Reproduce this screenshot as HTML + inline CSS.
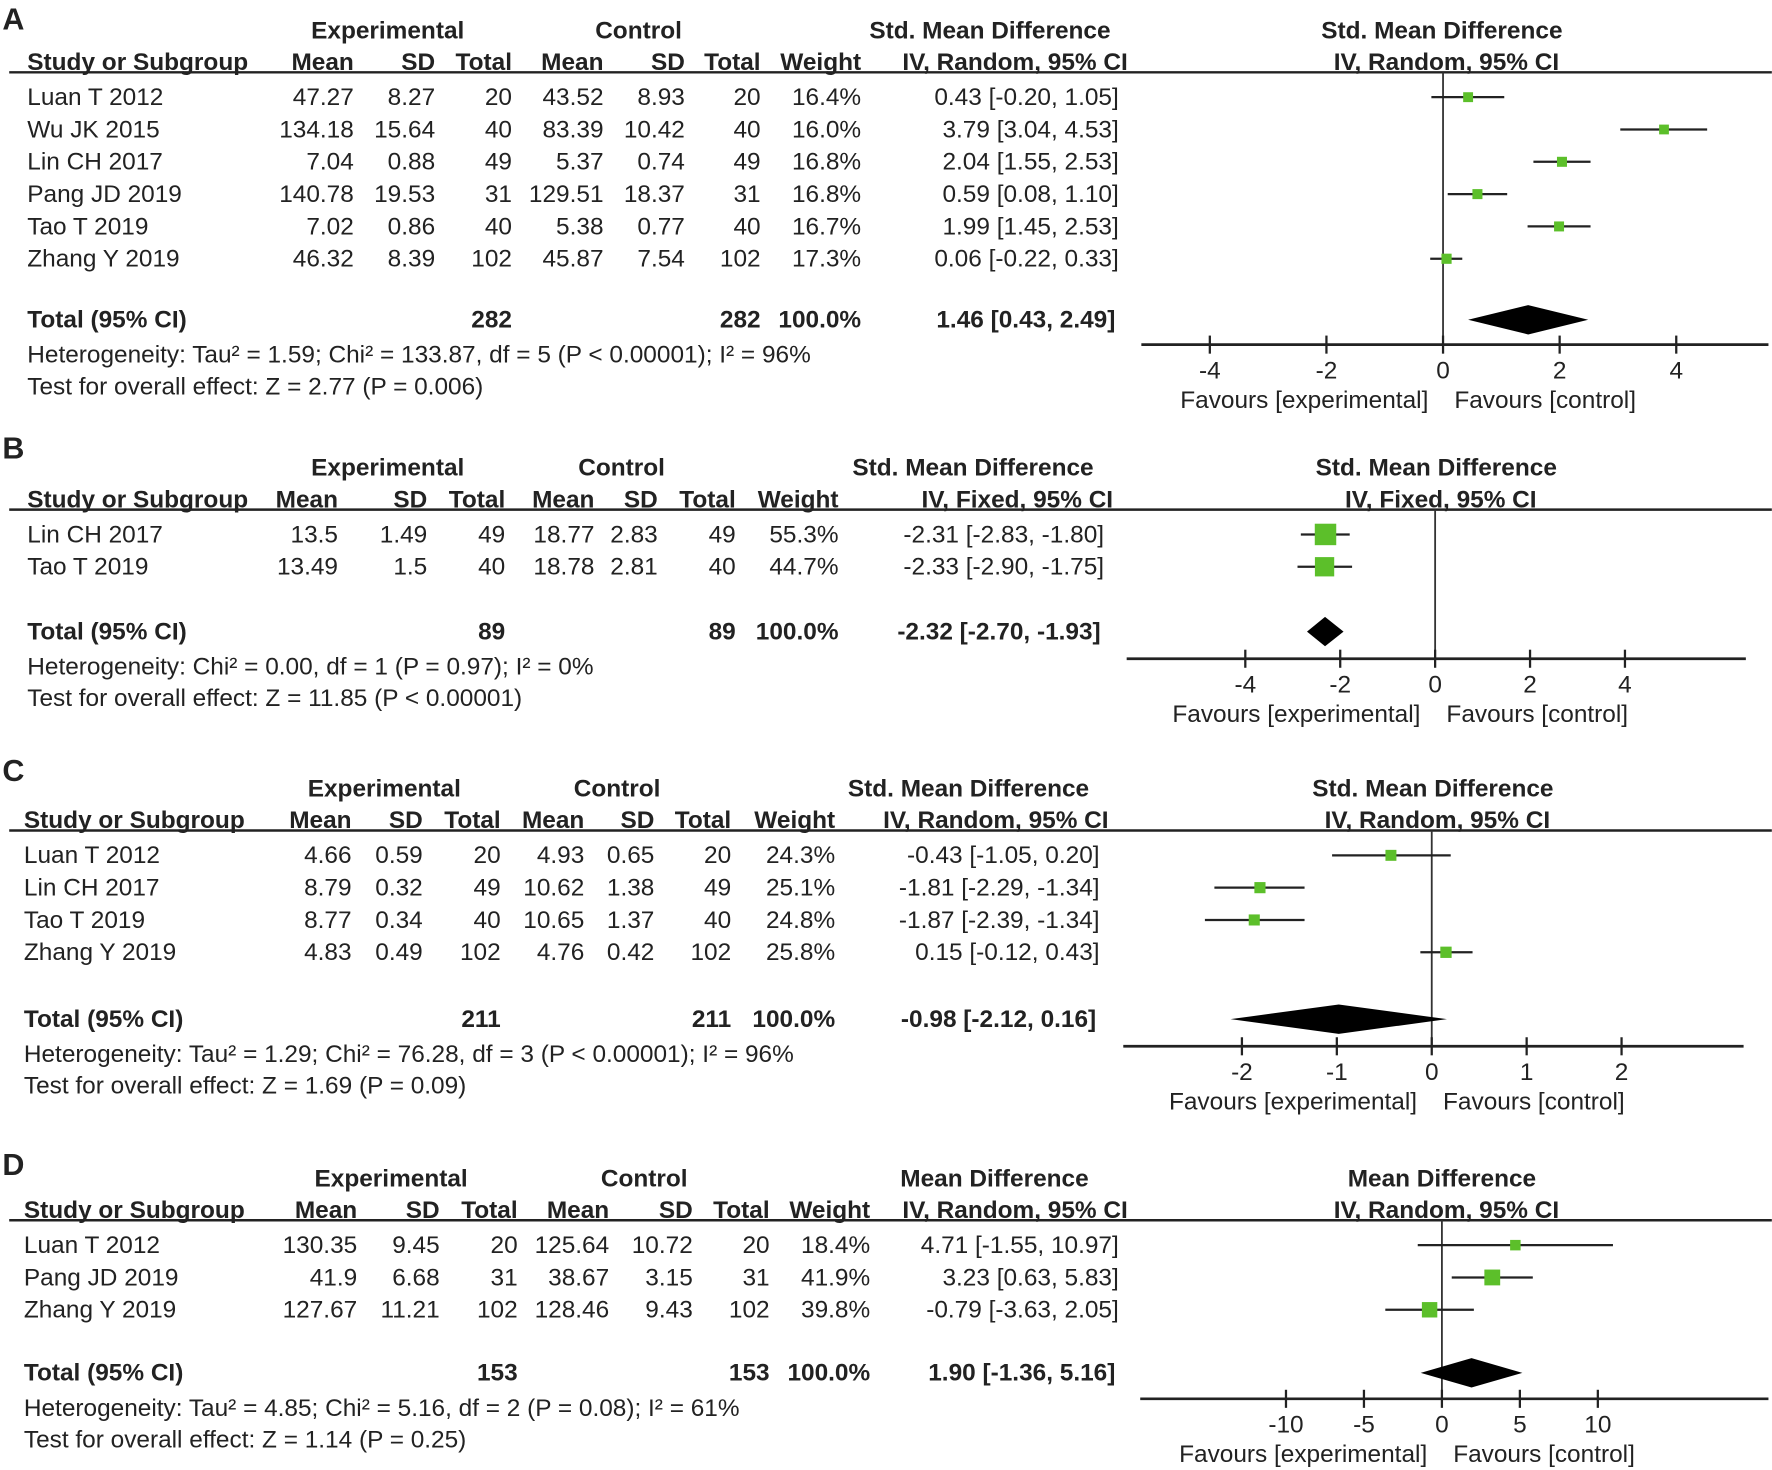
<!DOCTYPE html>
<html><head><meta charset="utf-8"><style>
html,body{margin:0;padding:0;background:#fff;}
svg{display:block;}
text{font-family:"Liberation Sans",Arial,sans-serif;fill:#222;}
</style></head><body>
<svg id="fig" width="1772" height="1470" viewBox="0 0 1568 1301" xmlns="http://www.w3.org/2000/svg"></svg>
<script>
// ---- Panel A data ----
const aStudies=["Luan T 2012","Wu JK 2015","Lin CH 2017","Pang JD 2019","Tao T 2019","Zhang Y 2019"];
const aEMean=["47.27","134.18","7.04","140.78","7.02","46.32"];
const aESD=["8.27","15.64","0.88","19.53","0.86","8.39"];
const aETot=["20","40","49","31","40","102"];
const aCMean=["43.52","83.39","5.37","129.51","5.38","45.87"];
const aCSD=["8.93","10.42","0.74","18.37","0.77","7.54"];
const aCTot=["20","40","49","31","40","102"];
const aWeight=[16.4,16.0,16.8,16.8,16.7,17.3];
const aEst=[0.43,3.79,2.04,0.59,1.99,0.06];
const aLo=[-0.20,3.04,1.55,0.08,1.45,-0.22];
const aHi=[1.05,4.53,2.53,1.10,2.53,0.33];
const aTotal=[1.46,0.43,2.49];
const aTicks=[-4,-2,0,2,4];
// ---- Panel B data ----
const bStudies=["Lin CH 2017","Tao T 2019"];
const bEMean=["13.5","13.49"];const bESD=["1.49","1.5"];const bETot=["49","40"];
const bCMean=["18.77","18.78"];const bCSD=["2.83","2.81"];const bCTot=["49","40"];
const bWeight=[55.3,44.7];
const bEst=[-2.31,-2.33];const bLo=[-2.83,-2.90];const bHi=[-1.80,-1.75];
const bTotal=[-2.32,-2.70,-1.93];
const bTicks=[-4,-2,0,2,4];
// ---- Panel C data ----
const cStudies=["Luan T 2012","Lin CH 2017","Tao T 2019","Zhang Y 2019"];
const cEMean=["4.66","8.79","8.77","4.83"];const cESD=["0.59","0.32","0.34","0.49"];const cETot=["20","49","40","102"];
const cCMean=["4.93","10.62","10.65","4.76"];const cCSD=["0.65","1.38","1.37","0.42"];const cCTot=["20","49","40","102"];
const cWeight=[24.3,25.1,24.8,25.8];
const cEst=[-0.43,-1.81,-1.87,0.15];const cLo=[-1.05,-2.29,-2.39,-0.12];const cHi=[0.20,-1.34,-1.34,0.43];
const cTotal=[-0.98,-2.12,0.16];
const cTicks=[-2,-1,0,1,2];
// ---- Panel D data ----
const dStudies=["Luan T 2012","Pang JD 2019","Zhang Y 2019"];
const dEMean=["130.35","41.9","127.67"];const dESD=["9.45","6.68","11.21"];const dETot=["20","31","102"];
const dCMean=["125.64","38.67","128.46"];const dCSD=["10.72","3.15","9.43"];const dCTot=["20","31","102"];
const dWeight=[18.4,41.9,39.8];
const dEst=[4.71,3.23,-0.79];const dLo=[-1.55,0.63,-3.63];const dHi=[10.97,5.83,2.05];
const dTotal=[1.90,-1.36,5.16];
const dTicks=[-10,-5,0,5,10];

const FS=21.6;
const svg=document.getElementById('fig');
const NS="http://www.w3.org/2000/svg";
function mk(tag,attrs,parent){const e=document.createElementNS(NS,tag);for(const k in attrs)e.setAttribute(k,attrs[k]);(parent||svg).appendChild(e);return e;}
function txt(s,x,y,anchor,bold,name,size,parent){const t=mk('text',{x:x,y:y,'text-anchor':anchor||'start','font-size':size||FS,'font-weight':bold?'bold':'normal'},parent);t.textContent=s;


return t;}
const f2=v=>v.toFixed(2);
function ci(e,l,h){return f2(e)+" ["+f2(l)+", "+f2(h)+"]";}

function panel(P){
  const g=mk('g',{});
  
  
  const y0=P.y0;
  txt(P.letter,2,P.letterY,'start',true,'panel-label',27,g);
  const C=P.cols;
  txt("Experimental",C.exp,y0+34,'middle',true,'experimental-header',FS,g);
  txt("Control",C.ctl,y0+34,'middle',true,'control-header',FS,g);
  txt(P.measure,C.meas,y0+34,'middle',true,'effect-measure-header',FS,g);
  txt(P.measure,C.plotHead,y0+34,'middle',true,'plot-measure-header',FS,g);
  txt("Study or Subgroup",C.study,y0+62,'start',true,'study-header',FS,g);
  const hdr=["Mean","SD","Total","Mean","SD","Total","Weight"];
  const keys=["em","esd","et","cm","csd","ct","w"];
  hdr.forEach((h,i)=>txt(h,C[keys[i]],y0+62,'end',true,'column-header-'+h.toLowerCase(),FS,g));
  txt(P.method,C.ci+8,y0+62,'end',true,'method-header',FS,g);
  txt(P.method,C.plotHead+4,y0+62,'middle',true,'plot-method-header',FS,g);
  const ln=mk('line',{x1:8,y1:y0+64,x2:1568,y2:y0+64,stroke:'#222','stroke-width':2.2},g);
  
  
  const xs=v=>P.zero+v*P.scale;
  const axisY=y0+P.axisOff;
  const zl=mk('line',{x1:xs(0),y1:y0+64,x2:xs(0),y2:axisY,stroke:'#333','stroke-width':1.6},g);
  
  
  const maxW=Math.max(...P.w);
  P.studies.forEach((s,i)=>{
    const by=y0+93+i*28.6;
    txt(s,C.study,by,'start',false,'study-name',FS,g);
    const vals=[P.em[i],P.esd[i],P.et[i],P.cm[i],P.csd[i],P.ct[i],P.w[i].toFixed(1)+"%"];
    vals.forEach((v,j)=>txt(v,C[keys[j]],by,'end',false,'cell-'+keys[j],FS,g));
    txt(ci(P.est[i],P.lo[i],P.hi[i]),C.ci,by,'end',false,'ci-value',FS,g);
    const cy=by-7;
    const l=mk('line',{x1:xs(P.lo[i]),y1:cy,x2:xs(P.hi[i]),y2:cy,stroke:'#222','stroke-width':2},g);
    
    
    const side=P.maxSide*Math.sqrt(P.w[i]/maxW);
    const r=mk('rect',{x:xs(P.est[i])-side/2,y:cy-side/2,width:side,height:side,fill:'#5cbf2a'},g);
    
    
  });
  const ty=y0+P.totOff;
  txt("Total (95% CI)",C.study,ty,'start',true,'total-label',FS,g);
  txt(P.totN,C.et,ty,'end',true,'total-exp-n',FS,g);
  txt(P.totN,C.ct,ty,'end',true,'total-ctl-n',FS,g);
  txt("100.0%",C.w,ty,'end',true,'total-weight',FS,g);
  txt(ci(P.tot[0],P.tot[1],P.tot[2]),C.ci-3,ty,'end',true,'total-ci',FS,g);
  const dy=ty-7,dh=P.dh;
  const d=mk('polygon',{points:`${xs(P.tot[1])},${dy} ${xs(P.tot[0])},${dy-dh} ${xs(P.tot[2])},${dy} ${xs(P.tot[0])},${dy+dh}`,fill:'#000'},g);
  
  
  txt(P.het,C.study,ty+31,'start',false,'heterogeneity-text',FS,g);
  txt(P.test,C.study,ty+59,'start',false,'overall-effect-text',FS,g);
  const ax=mk('line',{x1:P.axL,y1:axisY,x2:P.axR,y2:axisY,stroke:'#222','stroke-width':2.4},g);
  
  
  P.ticks.forEach(t=>{
    const tk=mk('line',{x1:xs(t),y1:axisY-8,x2:xs(t),y2:axisY+8,stroke:'#222','stroke-width':2},g);
    
    
    txt(String(t),xs(t),axisY+30,'middle',false,'x-tick-label',FS,g);
  });
  txt("Favours [experimental]",xs(0)-13,axisY+56,'end',false,'favours-experimental',FS,g);
  txt("Favours [control]",xs(0)+10,axisY+56,'start',false,'favours-control',FS,g);
}

panel({letter:"A",letterY:26,y0:0,measure:"Std. Mean Difference",method:"IV, Random, 95% CI",
  cols:{exp:343,ctl:565,meas:876,plotHead:1276,study:24,em:313,esd:385,et:453,cm:534,csd:606,ct:673,w:762,ci:990},
  studies:aStudies,em:aEMean,esd:aESD,et:aETot,cm:aCMean,csd:aCSD,ct:aCTot,w:aWeight,est:aEst,lo:aLo,hi:aHi,tot:aTotal,
  ticks:aTicks,zero:1277,scale:51.6,axisOff:305,axL:1010,axR:1565,totOff:290,totN:"282",maxSide:9,dh:13,
  het:"Heterogeneity: Tau² = 1.59; Chi² = 133.87, df = 5 (P < 0.00001); I² = 96%",test:"Test for overall effect: Z = 2.77 (P = 0.006)"});
panel({letter:"B",letterY:406,y0:387,measure:"Std. Mean Difference",method:"IV, Fixed, 95% CI",
  cols:{exp:343,ctl:550,meas:861,plotHead:1271,study:24,em:299,esd:378,et:447,cm:526,csd:582,ct:651,w:742,ci:977},
  studies:bStudies,em:bEMean,esd:bESD,et:bETot,cm:bCMean,csd:bCSD,ct:bCTot,w:bWeight,est:bEst,lo:bLo,hi:bHi,tot:bTotal,
  ticks:bTicks,zero:1270,scale:42,axisOff:196,axL:997,axR:1545,totOff:179,totN:"89",maxSide:19,dh:13,
  het:"Heterogeneity: Chi² = 0.00, df = 1 (P = 0.97); I² = 0%",test:"Test for overall effect: Z = 11.85 (P < 0.00001)"});
panel({letter:"C",letterY:691,y0:671,measure:"Std. Mean Difference",method:"IV, Random, 95% CI",
  cols:{exp:340,ctl:546,meas:857,plotHead:1268,study:21,em:311,esd:374,et:443,cm:517,csd:579,ct:647,w:739,ci:973},
  studies:cStudies,em:cEMean,esd:cESD,et:cETot,cm:cCMean,csd:cCSD,ct:cCTot,w:cWeight,est:cEst,lo:cLo,hi:cHi,tot:cTotal,
  ticks:cTicks,zero:1267,scale:84,axisOff:255,axL:994,axR:1543,totOff:238,totN:"211",maxSide:10,dh:13,
  het:"Heterogeneity: Tau² = 1.29; Chi² = 76.28, df = 3 (P < 0.00001); I² = 96%",test:"Test for overall effect: Z = 1.69 (P = 0.09)"});
panel({letter:"D",letterY:1040,y0:1016,measure:"Mean Difference",method:"IV, Random, 95% CI",
  cols:{exp:346,ctl:570,meas:880,plotHead:1276,study:21,em:316,esd:389,et:458,cm:539,csd:613,ct:681,w:770,ci:990},
  studies:dStudies,em:dEMean,esd:dESD,et:dETot,cm:dCMean,csd:dCSD,ct:dCTot,w:dWeight,est:dEst,lo:dLo,hi:dHi,tot:dTotal,
  ticks:dTicks,zero:1276,scale:13.8,axisOff:222,axL:1009,axR:1565,totOff:206,totN:"153",maxSide:14,dh:13,
  het:"Heterogeneity: Tau² = 4.85; Chi² = 5.16, df = 2 (P = 0.08); I² = 61%",test:"Test for overall effect: Z = 1.14 (P = 0.25)"});
</script>
</body></html>
